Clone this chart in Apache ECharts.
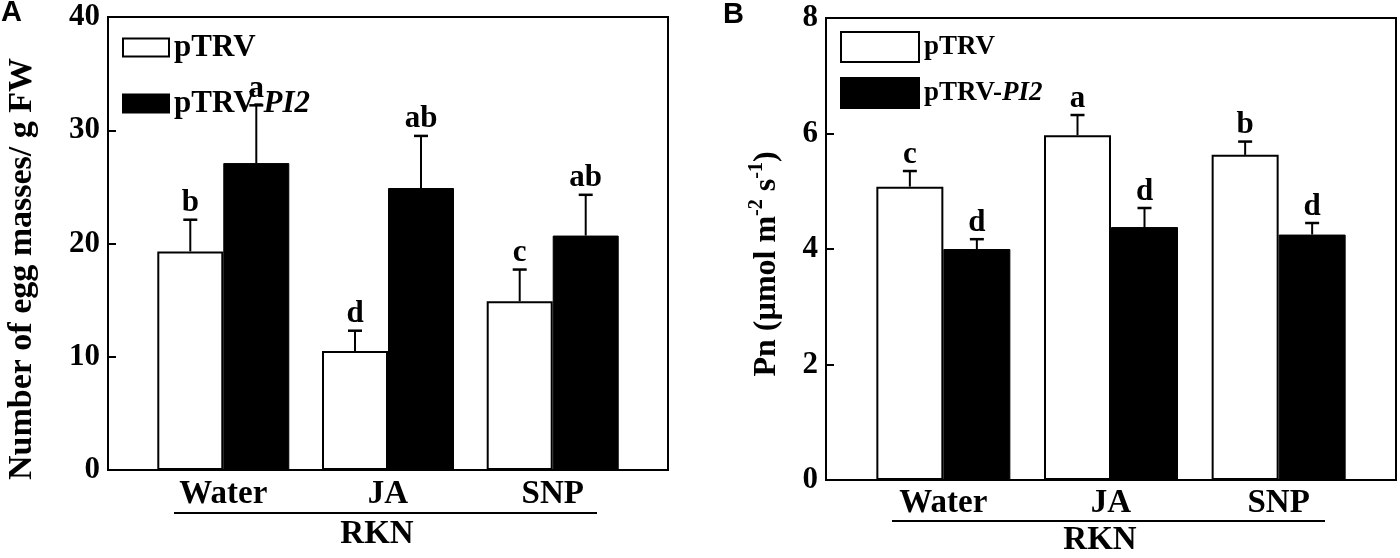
<!DOCTYPE html>
<html><head><meta charset="utf-8">
<script src="https://cdn.jsdelivr.net/npm/echarts@6/dist/echarts.min.js"></script>
<style>html,body{margin:0;padding:0;background:#fff}#c{width:1400px;height:558px}</style>
</head><body><div id="c"></div>
<script>
// ---- data ----
const categories = ['Water', 'JA', 'SNP'];
const groupLabel = 'RKN';
const seriesNames = ['pTRV', 'pTRV-PI2'];

const eggPTRV = [19.3, 10.5, 14.9];
const eggPTRVErr = [2.8, 1.8, 2.8];
const eggPTRVLetters = ['b', 'd', 'c'];
const eggPI2 = [27.1, 24.9, 20.7];
const eggPI2Err = [5.1, 4.6, 3.6];
const eggPI2Letters = ['a', 'ab', 'ab'];

const pnPTRV = [5.08, 5.97, 5.63];
const pnPTRVErr = [0.27, 0.35, 0.23];
const pnPTRVLetters = ['c', 'a', 'b'];
const pnPI2 = [4.0, 4.38, 4.25];
const pnPI2Err = [0.17, 0.33, 0.2];
const pnPI2Letters = ['d', 'd', 'd'];

const eggAxis = [0, 40, 10];   // min, max, interval
const pnAxis = [0, 8, 2];

// ---- styles ----
const SERIF = '"Liberation Serif", "Times New Roman", serif';
const SANS = '"Liberation Sans", Arial, sans-serif';

function xAxisCfg(gridIndex, margin) {
  return {
    type: 'value', gridIndex, min: -0.7, max: 2.7,
    axisLine: { show: true, onZero: false, lineStyle: { color: '#000', width: 2 } },
    axisTick: { show: false },
    splitLine: { show: false },
    axisLabel: {
      customValues: [0, 1, 2],
      formatter: v => categories[Math.round(v)],
      color: '#000', fontFamily: SERIF, fontWeight: 'bold', fontSize: 33, margin
    }
  };
}
function yAxisCfg(gridIndex, ax) {
  return {
    type: 'value', gridIndex, min: ax[0], max: ax[1], interval: ax[2],
    axisLine: { show: true, onZero: false, lineStyle: { color: '#000', width: 2 } },
    axisTick: { show: true, inside: true, length: 8, lineStyle: { color: '#000', width: 2 } },
    splitLine: { show: false },
    axisLabel: { color: '#000', fontFamily: SERIF, fontWeight: 'bold', fontSize: 31, margin: 8 }
  };
}
function barSeries(name, vals, idx, white, bw) {
  return {
    type: 'bar', name, xAxisIndex: idx, yAxisIndex: idx,
    data: vals.map((v, i) => [i, v]),
    barWidth: bw, barGap: '0%',
    itemStyle: white ? { color: '#fff', borderColor: '#000', borderWidth: 2 } : { color: '#000', borderColor: '#000', borderWidth: 1 },
    emphasis: { disabled: true }, z: 2
  };
}
function errSeries(vals, errs, letters, idx, offset) {
  return {
    type: 'custom', name: 'err' + idx + offset, xAxisIndex: idx, yAxisIndex: idx,
    data: vals.map((v, i) => [i, v, errs[i]]),
    z: 5, clip: false, silent: true,
    renderItem: function (params, api) {
      const x = api.value(0), v = api.value(1), e = api.value(2);
      const base = api.coord([x, v]);
      const top = api.coord([x, v + e]);
      const cx = base[0] + offset;
      return {
        type: 'group', children: [
          { type: 'line', shape: { x1: cx, y1: base[1], x2: cx, y2: top[1] }, style: { stroke: '#000', lineWidth: 2 } },
          { type: 'line', shape: { x1: cx - 7, y1: top[1], x2: cx + 7, y2: top[1] }, style: { stroke: '#000', lineWidth: 2.5 } },
          { type: 'text', style: { text: letters[params.dataIndex], x: cx, y: top[1] - 1, align: 'center', verticalAlign: 'bottom', font: 'bold 31px ' + SERIF, fill: '#000' } }
        ]
      };
    }
  };
}
function legendCfg(left, top, w, h, gap, fs, pad) {
  return {
    left, top, orient: 'vertical', icon: 'rect', itemWidth: w, itemHeight: h, itemGap: gap,
    selectedMode: false, data: seriesNames,
    formatter: n => n === 'pTRV-PI2' ? '{n|pTRV-}{i|PI2}' : '{n|' + n + '}',
    textStyle: {
      padding: [0, 0, 0, pad],
      rich: {
        n: { fontFamily: SERIF, fontWeight: 'bold', fontSize: fs, color: '#000' },
        i: { fontFamily: SERIF, fontWeight: 'bold', fontStyle: 'italic', fontSize: fs, color: '#000' }
      }
    }
  };
}

const chart = echarts.init(document.getElementById('c'), null, { renderer: 'canvas' });
chart.setOption({
  animation: false,
  backgroundColor: '#fff',
  grid: [
    { left: 108, top: 17, width: 560, height: 453, show: true, borderColor: '#000', borderWidth: 2, backgroundColor: 'transparent' },
    { left: 826, top: 18, width: 570, height: 462, show: true, borderColor: '#000', borderWidth: 2, backgroundColor: 'transparent' }
  ],
  xAxis: [xAxisCfg(0, 8), xAxisCfg(1, 7)],
  yAxis: [yAxisCfg(0, eggAxis), yAxisCfg(1, pnAxis)],
  legend: [legendCfg(117, 27, 46, 18, 25, 31, 0), legendCfg(835, 26, 78, 30, 14, 27, 0)],
  series: [
    barSeries(seriesNames[0], eggPTRV, 0, true, 66),
    barSeries(seriesNames[1], eggPI2, 0, false, 66),
    barSeries(seriesNames[0], pnPTRV, 1, true, 67),
    barSeries(seriesNames[1], pnPI2, 1, false, 67),
    errSeries(eggPTRV, eggPTRVErr, eggPTRVLetters, 0, -33),
    errSeries(eggPI2, eggPI2Err, eggPI2Letters, 0, 33),
    errSeries(pnPTRV, pnPTRVErr, pnPTRVLetters, 1, -33.5),
    errSeries(pnPI2, pnPI2Err, pnPI2Letters, 1, 33.5)
  ],
  graphic: [
    { type: 'text', x: 1, y: -2, style: { text: 'A', font: 'bold 29px ' + SANS, fill: '#000', align: 'left', verticalAlign: 'top' } },
    { type: 'text', x: 723, y: 0, style: { text: 'B', font: 'bold 29px ' + SANS, fill: '#000', align: 'left', verticalAlign: 'top' } },
    { type: 'text', x: 22, y: 269, rotation: Math.PI / 2,
      style: { text: 'Number of egg masses/ g FW', font: 'bold 34px ' + SERIF, fill: '#000', align: 'center', verticalAlign: 'middle' } },
    { type: 'text', x: 765, y: 264, rotation: Math.PI / 2,
      style: {
        text: '{m|Pn (\u00b5mol m}{s|-2}{m| s}{s|-1}{m|)}', align: 'center', verticalAlign: 'middle',
        rich: {
          m: { font: 'bold 32px ' + SERIF, fill: '#000', lineHeight: 36, verticalAlign: 'bottom' },
          s: { font: 'bold 20px ' + SERIF, fill: '#000', lineHeight: 36, verticalAlign: 'top' }
        }
      } },
    { type: 'line', shape: { x1: 174, y1: 513, x2: 597, y2: 513 }, style: { stroke: '#000', lineWidth: 2 } },
    { type: 'line', shape: { x1: 892, y1: 521, x2: 1325, y2: 521 }, style: { stroke: '#000', lineWidth: 2 } },
    { type: 'text', x: 377, y: 534, style: { text: groupLabel, font: 'bold 33px ' + SERIF, fill: '#000', align: 'center', verticalAlign: 'middle' } },
    { type: 'text', x: 1100, y: 540, style: { text: groupLabel, font: 'bold 33px ' + SERIF, fill: '#000', align: 'center', verticalAlign: 'middle' } }
  ]
});
</script>
</body></html>
